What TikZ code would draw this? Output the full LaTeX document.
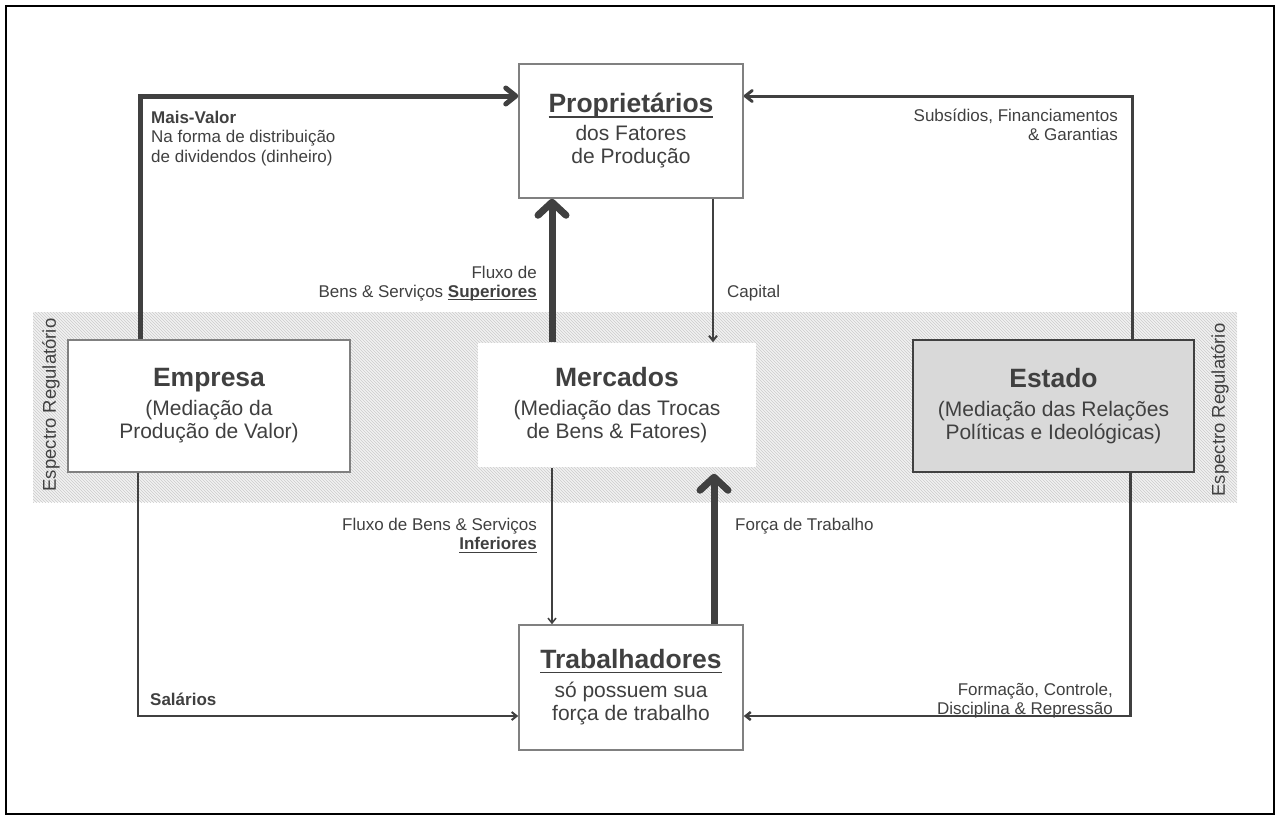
\documentclass[tikz,border=0pt]{standalone}
\usepackage{fontspec}
\setmainfont{Liberation Sans}
\usetikzlibrary{arrows.meta,patterns}

\definecolor{ink}{HTML}{404040}
\definecolor{boxline}{HTML}{808080}
\definecolor{statefill}{HTML}{D9D9D9}
\newcommand\actorhead{\fontsize{26.5}{30}\selectfont\bfseries}
\newcommand\actorbody{\fontsize{21}{23}\selectfont}
\newcommand\notetext{\fontsize{17}{19.5}\selectfont}
\newcommand\ulined[1]{\leavevmode\setbox0\hbox{#1}\rlap{\rule[-0.17em]{\wd0}{0.07em}}\box0}

\tikzset{
	actor/.style={draw=boxline,line width=1.5pt,fill=white,align=center,text=ink,font=\actorbody,inner sep=0pt},
	note/.style={text=ink,font=\notetext,inner sep=0pt},
	fat/.style={draw=ink,line width=7pt,-{Straight Barb[length=13pt,width=28pt,round]}},
	surplus/.style={draw=ink,line width=5pt,-{Straight Barb[length=10pt,width=16pt,round]}},
	statearrow/.style={draw=ink,line width=3pt,-{Straight Barb[length=7pt,width=11pt,round]}},
	flow/.style={draw=ink,line width=1.8pt,-{Straight Barb[length=5pt,width=8pt]}}
}

\begin{document}
\begin{tikzpicture}[x=1pt,y=-1pt]
	\useasboundingbox (0,0) rectangle (1280,820);
	\draw[line width=2pt] (6,6) rectangle (1274,814);
	\fill[gray!10] (33,312) rectangle (1237,502);
	\fill[pattern=north west lines,pattern color=gray!40] (33,312) rectangle (1237,502);
	\node[note,rotate=90,font=\fontsize{18.5}{20}\selectfont] (specl) at (51,405) {Espectro Regulatório};
	\node[note,rotate=90,font=\fontsize{18.5}{20}\selectfont] (specr) at (1220,410) {Espectro Regulatório};

	\node[actor,minimum width=224pt,minimum height=134pt] (prop) at (631,131) {{\actorhead\ulined{Proprietários}}\\[5pt]dos Fatores\\de Produção};
	\node[actor,minimum width=282pt,minimum height=132pt] (empresa) at (209,406) {{\actorhead Empresa}\\[6pt](Mediação da\\Produção de Valor)};
	\node[actor,draw=none,minimum width=278pt,minimum height=124pt] (merc) at (617,405) {{\actorhead Mercados}\\[6pt](Mediação das Trocas\\de Bens \& Fatores)};
	\node[actor,draw=ink,fill=statefill,minimum width=281pt,minimum height=132pt] (estado) at (1053.5,406) {{\actorhead Estado}\\[6pt](Mediação das Relações\\Políticas e Ideológicas)};
	\node[actor,minimum width=224pt,minimum height=125pt] (trab) at (631,687.5) {{\actorhead\ulined{Trabalhadores}}\\[6pt]só possuem sua\\força de trabalho};

	\draw[surplus] ([xshift=-69pt]empresa.north) |- ([yshift=35pt]prop.west);
	\draw[statearrow] ([xshift=79pt]estado.north) |- ([yshift=35pt]prop.east);
	\draw[fat] ([xshift=-65pt]merc.north) -- ([xshift=-79pt]prop.south);
	\draw[flow,line width=2pt] ([xshift=82pt]prop.south) -- ([xshift=96pt]merc.north);
	\draw[flow,line width=1.5pt] ([xshift=-65pt]merc.south) -- ([xshift=-79pt]trab.north);
	\draw[fat,shorten >=6pt] ([xshift=83pt]trab.north) -- ([xshift=97pt]merc.south);
	\draw[flow,line width=2pt] ([xshift=-71pt]empresa.south) |- ([yshift=-28.5pt]trab.west);
	\draw[flow,line width=2.5pt] ([xshift=77pt]estado.south) |- ([yshift=-28.5pt]trab.east);

	\node[note,anchor=north west,align=left] (mv) at (151,110.5) {\textbf{Mais-Valor}\\Na forma de distribuição\\de dividendos (dinheiro)};
	\node[note,anchor=north east,align=right] (subs) at (1118,108.5) {Subsídios, Financiamentos\\\& Garantias};
	\node[note,anchor=north east,align=right] (sup) at (537,265.5) {Fluxo de\\Bens \& Serviços \ulined{\textbf{Superiores}}};
	\node[note,anchor=base west] (capital) at (727,297) {Capital};
	\node[note,anchor=north east,align=right] (inf) at (537,517.8) {Fluxo de Bens \& Serviços\\\ulined{\textbf{Inferiores}}};
	\node[note,anchor=base west] (forca) at (735,530) {Força de Trabalho};
	\node[note,anchor=base west] (sal) at (150,705) {\textbf{Salários}};
	\node[note,anchor=north east,align=right] (form) at (1113,682.5) {Formação, Controle,\\Disciplina \& Repressão};
\end{tikzpicture}
\end{document}
